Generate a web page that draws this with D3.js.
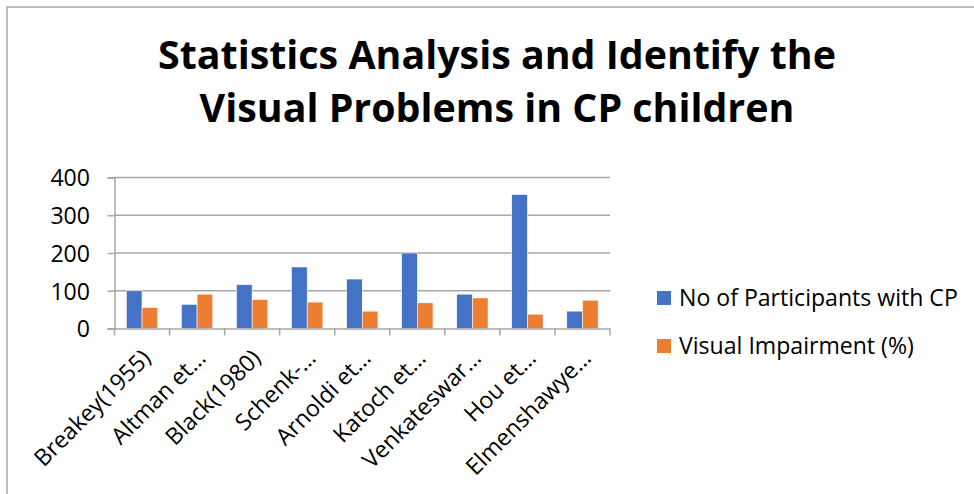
<!DOCTYPE html>
<html><head><meta charset="utf-8">
<script src="https://cdn.jsdelivr.net/npm/d3@7"></script>
<style>
html,body{margin:0;padding:0;background:#fff;}
svg{display:block;}
text{font-family:"Open Sans",Lato,sans-serif;fill:#000;}
</style></head>
<body>
<svg id="chart" width="974" height="494"></svg>
<script>
const titleLines = ["Statistics Analysis and Identify the", "Visual Problems in CP children"];
const categories = ["Breakey(1955)", "Altman et…", "Black(1980)", "Schenk-…", "Arnoldi et…", "Katoch et…", "Venkateswar…", "Hou et…", "Elmenshawye…"];
const seriesNames = ["No of Participants with CP", "Visual Impairment (%)"];
const participants = [100, 64, 116, 163, 131, 200, 91, 355, 46];
const impairment = [56, 91, 77, 70, 46, 68, 81, 38, 75];
const yTicks = [0, 100, 200, 300, 400];
const colors = ["#4472C4", "#ED7D31"];

const svg = d3.select("#chart");
const plot = {left: 114.5, right: 610, top: 177.5, bottom: 328.5};
const FONT = "'Open Sans', Lato, sans-serif";

// measure helper: font size giving a target width
function fitSize(str, target, weight) {
  const t = svg.append("text").attr("font-size", 20).attr("font-weight", weight || 400)
    .attr("font-family", FONT).text(str);
  const w = t.node().getComputedTextLength();
  t.remove();
  return 20 * target / w;
}
const labelSize = fitSize(seriesNames[0], 279, 400);
const titleSize = fitSize(titleLines[0], 678, 700);

// outer border (only top/left visible in frame)
svg.append("rect").attr("x", 7).attr("y", 7).attr("width", 1000).attr("height", 600)
  .attr("fill", "#fff").attr("stroke", "#a6a6a6").attr("stroke-width", 1.5);

// title
svg.append("g").selectAll("text").data(titleLines).join("text")
  .attr("x", 497).attr("y", (d, i) => 69 + i * 53)
  .attr("text-anchor", "middle").attr("font-size", titleSize).attr("font-weight", 700)
  .text(d => d);

const x0 = d3.scaleBand().domain(categories).range([plot.left, plot.right]);
const x1 = d3.scaleBand().domain(seriesNames).range([-15.7, 15.7]);
const y = d3.scaleLinear().domain([0, 400]).range([plot.bottom, plot.top]);

// gridlines
svg.append("g").selectAll("line").data(yTicks.filter(t => t > 0)).join("line")
  .attr("x1", plot.left).attr("x2", plot.right)
  .attr("y1", d => y(d)).attr("y2", d => y(d))
  .attr("stroke", "#a6a6a6").attr("stroke-width", 1.5);

// bars
const rows = categories.map((c, i) => ({c, vals: [participants[i], impairment[i]]}));
const g = svg.append("g").selectAll("g").data(rows).join("g")
  .attr("transform", d => `translate(${x0(d.c) + x0.bandwidth() / 2},0)`);
g.selectAll("rect").data(d => d.vals.map((v, k) => ({v, k}))).join("rect")
  .attr("x", d => x1(seriesNames[d.k]))
  .attr("width", x1.bandwidth())
  .attr("y", d => y(d.v))
  .attr("height", d => y(0) - y(d.v))
  .attr("fill", d => colors[d.k])
  .attr("stroke", "#fff").attr("stroke-width", 0.6);

// y axis
const yAxis = d3.axisLeft(y).tickValues(yTicks).tickSize(7).tickPadding(17.5);
const ya = svg.append("g").attr("transform", `translate(${plot.left},0)`).call(yAxis);
ya.select(".domain").attr("stroke", "#a6a6a6").attr("stroke-width", 1.5);
ya.selectAll(".tick line").attr("stroke", "#a6a6a6").attr("stroke-width", 1.5);
ya.selectAll(".tick text").attr("font-size", labelSize).attr("font-family", FONT).attr("fill", "#000").attr("dy", "0.36em");

// x axis
const xAxis = d3.axisBottom(x0).tickSize(0).tickFormat("");
const xa = svg.append("g").attr("transform", `translate(0,${plot.bottom})`).call(xAxis);
xa.select(".domain").attr("stroke", "#a6a6a6").attr("stroke-width", 1.5);
xa.selectAll(".tick").remove();
const bounds = categories.map(c => x0(c)).concat([plot.right]);
xa.selectAll("line.b").data(bounds).join("line").attr("class", "b")
  .attr("x1", d => d).attr("x2", d => d).attr("y1", 0).attr("y2", 7)
  .attr("stroke", "#a6a6a6").attr("stroke-width", 1.5);

svg.append("g").selectAll("text").data(categories).join("text")
  .attr("transform", d => `translate(${x0(d) + x0.bandwidth() / 2 + 10},${plot.bottom + 31}) rotate(-45)`)
  .attr("text-anchor", "end").attr("font-size", labelSize)
  .text(d => d);

// legend
const leg = svg.append("g").selectAll("g").data(seriesNames).join("g")
  .attr("transform", (d, i) => `translate(657,${291 + i * 48})`);
leg.append("rect").attr("width", 14).attr("height", 14).attr("fill", (d, i) => colors[i]);
leg.append("text").attr("x", 22).attr("y", 15).attr("font-size", labelSize).text(d => d);
</script>
</body></html>
